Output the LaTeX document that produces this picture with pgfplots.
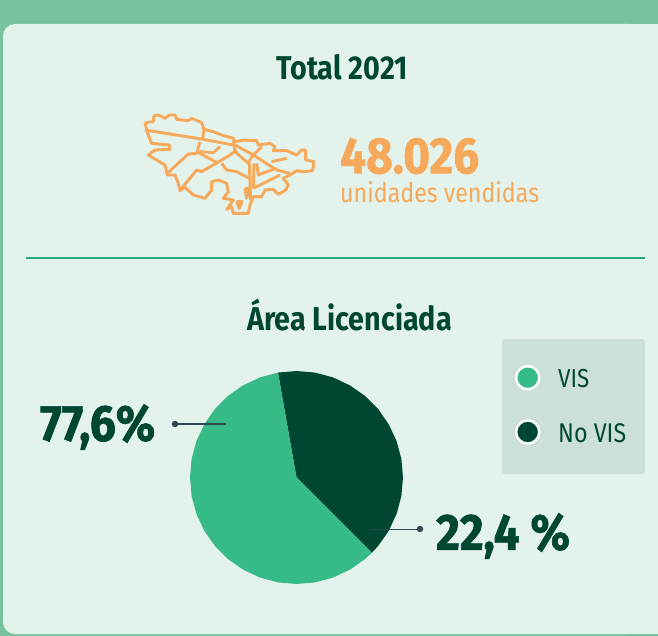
\documentclass[border=0pt]{standalone}
\usepackage{pgfplots}
\pgfplotsset{compat=1.18}
\usepackage{fontspec}
\setmainfont{Fira Sans}
\newfontfamily\cond[FakeStretch=0.86]{Fira Sans}
\newfontfamily\condb[FakeStretch=0.87]{Fira Sans Bold}
\newfontfamily\heavy[FakeStretch=0.9,FakeBold=1.2]{Fira Sans Bold}
\definecolor{strip}{HTML}{78C2A0}
\definecolor{panel}{HTML}{E3F2EB}
\definecolor{dark}{HTML}{004733}
\definecolor{vis}{HTML}{36BA87}
\definecolor{orange}{HTML}{F6A95B}
\definecolor{rulegreen}{HTML}{2CA87F}
\definecolor{legbox}{HTML}{CCDFD9}
\definecolor{leader}{HTML}{33494F}
\pgfplotsset{
  mapline/.style={orange, line width=2.9pt, line join=round, forget plot},
}
\newcommand{\mapline}[1]{\addplot[mapline] table[row sep=\\, header=false, x expr=130+\thisrowno{0}/3, y expr=100+\thisrowno{1}/3] {#1};}
\begin{document}
\begin{tikzpicture}
\begin{axis}[
  width=658pt, height=636pt, scale only axis,
  xmin=0, xmax=658, ymin=0, ymax=636, y dir=reverse,
  hide axis, clip=true,
]
% background
\fill[strip] (axis cs:0,0) rectangle (axis cs:658,636);
\fill[panel, rounded corners=12pt] (axis cs:3,24) rectangle (axis cs:640,634);
\fill[panel] (axis cs:600,24) rectangle (axis cs:658,634);

% pie, angles as drawn in the picture
\addplot[draw=none, fill=dark] coordinates {
  (296.5,477.5) (278.0,372.6) (296.5,371.0) (315.0,372.6) (332.9,377.4) (349.8,385.3)
  (365.0,395.9) (378.1,409.0) (388.7,424.3) (396.6,441.1) (401.4,459.0) (403.0,477.5)
  (401.4,496.0) (396.6,513.9) (388.7,530.8) (378.1,546.0) (371.8,552.8)
} -- cycle;
\addplot[draw=none, fill=vis] coordinates {
  (296.5,477.5) (371.8,552.8) (365.0,559.1) (349.8,569.7) (332.9,577.6) (315.0,582.4)
  (296.5,584.0) (278.0,582.4) (260.1,577.6) (243.2,569.7) (228.0,559.1) (214.9,546.0)
  (204.3,530.8) (196.4,513.9) (191.6,496.0) (190.0,477.5) (191.6,459.0) (196.4,441.1)
  (204.3,424.3) (214.9,409.0) (228.0,395.9) (243.2,385.3) (260.1,377.4) (278.0,372.6)
} -- cycle;

% leader lines
\addplot[leader, line width=1.5pt] coordinates {(175,424) (226,424)};
\addplot[leader, line width=1.5pt] coordinates {(369,529.5) (420,529.5)};
\addplot[only marks, mark=*, mark size=3pt, leader] coordinates {(175,424) (420,529)};

% divider
\addplot[rulegreen, line width=2pt] coordinates {(26,258) (645,258)};

% map outline
\mapline{45 68\\ 70 65\\ 72 47\\ 85 45\\ 105 55\\ 118 45\\ 135 45\\ 140 58\\ 175 62\\ 185 55\\ 215 68\\ 222 88\\ 250 95\\ 275 105\\ 310 115\\ 315 125\\ 345 120\\ 380 122\\ 385 135\\ 420 130\\ 435 140\\ 430 152\\ 470 152\\ 500 165\\ 515 150\\ 527 150\\ 527 180\\ 552 185\\ 548 212\\ 520 215\\ 500 212\\ 480 225\\ 460 235\\ 475 255\\ 465 272\\ 445 283\\ 430 268\\ 405 270\\ 395 290\\ 370 290\\ 360 315\\ 355 340\\ 310 340\\ 305 320\\ 290 328\\ 310 300\\ 280 295\\ 295 275\\ 290 250\\ 265 240\\ 245 245\\ 245 270\\ 225 295\\ 190 285\\ 165 262\\ 150 272\\ 145 250\\ 135 225\\ 112 225\\ 105 195\\ 80 180\\ 55 165\\ 75 150\\ 120 148\\ 118 135\\ 65 130\\ 55 105\\ 50 90\\ 45 68\\}
\mapline{45 90\\ 220 118\\ 310 135\\}
\mapline{310 115\\ 315 155\\ 355 190\\ 365 170\\ 395 140\\}
\mapline{112 220\\ 175 162\\ 200 160\\ 210 125\\}
\mapline{200 155\\ 265 190\\}
\mapline{210 155\\ 250 158\\ 270 140\\}
\mapline{155 265\\ 200 210\\ 215 215\\ 300 165\\ 320 150\\}
\mapline{222 88\\ 218 115\\}
\mapline{275 190\\ 290 210\\ 320 215\\ 358 235\\}
\mapline{358 190\\ 362 300\\}
\mapline{372 190\\ 370 265\\}
\mapline{315 135\\ 370 165\\ 440 210\\ 480 220\\}
\mapline{370 265\\ 450 225\\}
\mapline{380 190\\ 385 225\\ 410 215\\ 440 205\\}
\mapline{425 185\\ 470 175\\}
\mapline{345 265\\ 350 295\\ 358 265\\ 345 265\\}
\mapline{320 305\\ 328 325\\ 336 305\\ 320 305\\}

% legend box
\fill[legbox, rounded corners=3pt] (axis cs:502,339) rectangle (axis cs:645,474);
\addplot[only marks, mark=*, mark size=11.5pt, mark options={fill=vis, draw=white, line width=2.4pt}] coordinates {(527.7,377.7)};
\addplot[only marks, mark=*, mark size=11.5pt, mark options={fill=dark, draw=white, line width=2.4pt}] coordinates {(527.7,432)};

% text
\node[text=dark, font=\condb\fontsize{33}{33}\selectfont] at (axis cs:342,67) {Total 2021};
\node[text=dark, font=\condb\fontsize{33}{33}\selectfont] at (axis cs:349.5,315) {Área Licenciada};
\node[text=orange, font=\heavy\fontsize{51}{51}\selectfont, anchor=west, inner sep=0pt] at (axis cs:340,156) {48.026};
\node[text=orange, font=\cond\fontsize{27}{27}\selectfont, anchor=west, inner sep=0pt] at (axis cs:340,192) {unidades vendidas};
\node[text=dark, font=\heavy\fontsize{51}{51}\selectfont, anchor=west, inner sep=0pt] at (axis cs:40,427) {77,6\%};
\node[text=dark, font=\heavy\fontsize{51}{51}\selectfont, anchor=west, inner sep=0pt] at (axis cs:436,536) {22,4 \%};
\node[text=dark, font=\cond\fontsize{26}{26}\selectfont, anchor=west, inner sep=0pt] at (axis cs:558,379) {VIS};
\node[text=dark, font=\cond\fontsize{27}{27}\selectfont, anchor=west, inner sep=0pt] at (axis cs:558,433) {No VIS};
\end{axis}
\end{tikzpicture}
\end{document}
